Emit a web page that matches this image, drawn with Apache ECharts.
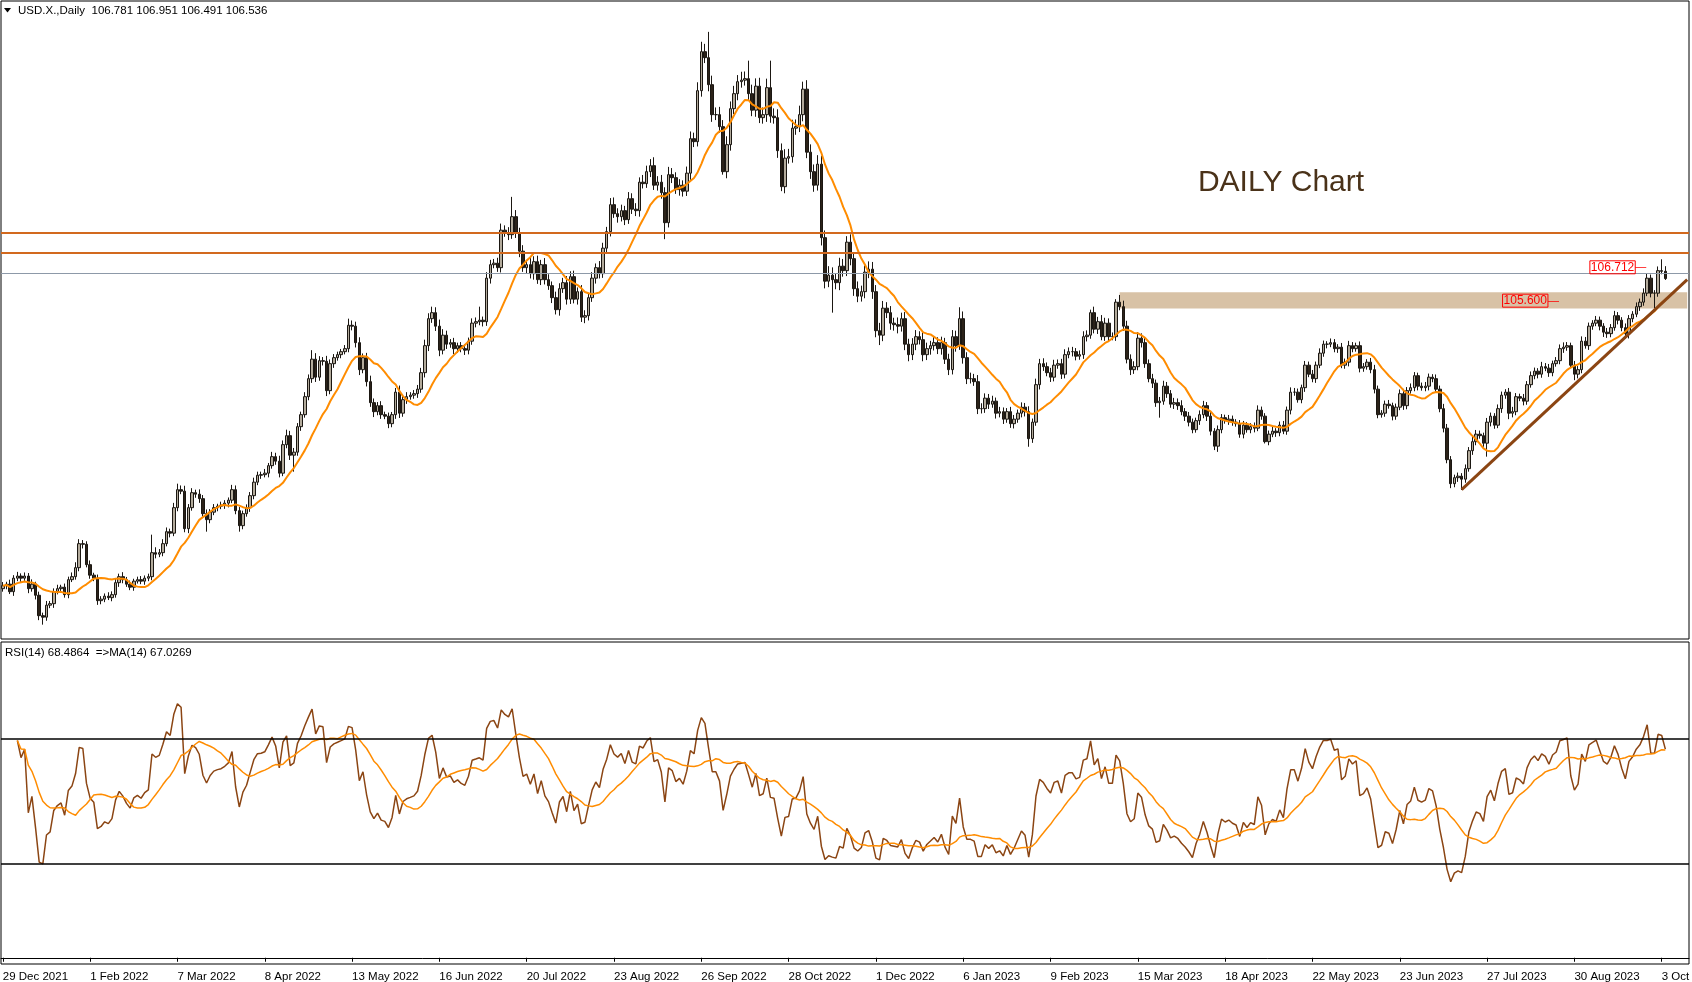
<!DOCTYPE html>
<html><head><meta charset="utf-8">
<script src="https://cdn.jsdelivr.net/npm/echarts@6/dist/echarts.min.js"></script>
<style>html,body{margin:0;padding:0;background:#fff;}#c{width:1690px;height:982px;}</style>
</head><body><div id="c"></div>
<script>
// ---- data (USD.X daily) ----
const firstDay = '2021-12-29';
const closedDays = ['2022-04-15', '2022-12-26', '2023-01-02'];
const tickLabels = ['29 Dec 2021','1 Feb 2022','7 Mar 2022','8 Apr 2022','13 May 2022','16 Jun 2022','20 Jul 2022','23 Aug 2022','26 Sep 2022','28 Oct 2022','1 Dec 2022','6 Jan 2023','9 Feb 2023','15 Mar 2023','18 Apr 2023','22 May 2023','23 Jun 2023','27 Jul 2023','30 Aug 2023','3 Oct 2023'];
const firstOpen = 96.20;
const closes = [
96.30,96.35,96.10,96.55,96.62,96.55,96.62,96.20,96.35,95.98,
95.30,95.25,95.65,95.70,96.10,96.20,96.25,96.00,96.50,96.60,
96.90,97.70,97.68,97.00,96.65,96.55,95.80,95.85,95.95,95.90,
96.00,96.40,96.60,96.50,96.35,96.25,96.45,96.50,96.45,96.55,
96.60,97.40,97.35,97.40,97.70,98.10,98.05,98.90,99.50,99.45,
98.20,98.90,99.40,99.35,99.20,98.70,98.50,98.75,98.90,98.95,
98.98,99.05,99.15,99.50,98.80,98.30,98.70,98.90,99.30,99.75,
99.98,100.00,100.05,100.30,100.60,100.45,100.05,101.00,101.30,100.65,
100.75,101.60,102.00,102.60,103.20,103.85,103.25,103.80,103.78,102.80,
103.70,103.90,104.00,104.10,104.20,104.98,104.95,104.40,103.50,103.90,
103.10,102.40,102.10,102.30,102.00,101.95,101.70,102.00,102.75,102.05,
102.50,102.60,102.65,102.70,102.85,103.40,104.30,105.20,105.40,104.95,
104.15,104.65,104.35,104.40,104.20,104.30,104.20,104.15,104.45,105.05,
105.10,105.15,105.10,106.55,107.00,107.05,106.90,108.15,108.05,108.00,
108.60,108.05,107.45,106.90,107.00,106.70,107.10,106.50,107.00,106.50,
106.30,105.90,105.50,106.20,106.40,105.85,106.60,105.85,106.10,105.25,
105.30,105.90,106.55,106.90,106.70,107.55,108.10,109.00,108.70,108.60,
108.80,108.50,109.20,108.85,108.80,109.75,109.70,110.10,110.30,109.65,
109.75,109.40,108.40,110.00,109.90,109.50,109.65,109.45,110.05,111.20,
111.10,112.80,114.10,113.90,113.00,112.00,112.00,111.60,110.10,111.00,
112.20,112.70,113.10,113.15,113.20,112.70,112.15,112.95,111.90,112.00,
112.90,111.95,111.90,110.80,109.60,110.55,110.60,111.55,111.60,112.00,
112.85,110.75,110.10,109.65,110.35,107.90,106.45,106.65,106.50,106.40,
106.95,106.80,107.75,107.20,106.20,105.95,106.10,106.75,106.85,106.10,
104.80,104.65,105.55,105.40,105.05,105.00,104.95,105.20,104.35,104.00,
104.35,104.60,104.50,104.00,104.20,104.30,104.40,104.20,104.40,103.85,
103.50,104.60,104.30,105.20,103.90,103.20,103.20,103.10,102.20,102.20,
102.55,102.35,102.45,102.05,102.10,101.85,102.10,101.70,101.85,102.05,
102.25,102.10,101.20,101.75,103.00,103.70,103.60,103.40,103.25,103.65,
103.70,103.35,104.00,104.10,104.10,103.95,104.00,104.60,104.65,105.40,
104.85,105.10,104.60,105.05,104.60,104.60,105.75,105.60,104.95,103.85,
103.50,103.60,104.55,104.40,103.70,103.20,103.05,102.40,102.45,102.95,
102.70,102.35,102.40,102.30,102.10,101.95,101.75,101.50,101.80,102.00,
102.30,101.95,101.45,100.95,101.50,101.90,101.80,101.85,101.75,101.70,
101.35,101.65,101.50,101.60,101.55,102.15,101.95,101.10,101.35,101.45,
101.40,101.65,101.45,102.15,102.75,102.75,102.50,102.90,103.65,103.35,
103.20,103.65,104.05,104.35,104.35,104.40,104.20,104.25,103.65,103.75,
104.30,104.20,104.30,103.55,103.60,103.75,103.50,102.85,102.00,102.05,
102.35,102.30,101.95,102.25,102.70,102.30,102.80,102.90,103.30,102.95,
102.90,102.95,103.25,103.20,102.85,102.20,101.55,100.50,99.70,99.90,
99.95,99.85,100.20,100.80,101.10,101.35,101.30,101.05,101.75,101.95,
101.65,102.20,102.65,102.75,102.05,102.10,102.60,102.55,102.45,103.00,
103.30,103.45,103.35,103.60,103.55,103.40,103.70,103.80,104.20,104.25,
104.30,103.65,103.35,103.50,104.45,104.30,104.95,105.05,105.15,104.95,
104.75,104.70,104.90,105.30,105.15,104.90,104.70,105.20,105.35,105.60,
105.75,106.05,106.55,106.05,106.05,106.80,106.78,106.536
];
// wick lengths above / below the body, in hundredths of a point
const wickUp = [
12,8,15,10,14,9,12,10,16,8,12,10,14,9,11,13,8,12,10,14,
18,15,12,10,14,8,12,10,9,13,11,12,10,15,9,12,8,10,12,9,
10,60,18,12,15,14,10,16,20,14,18,12,15,10,16,12,14,10,12,8,
12,10,9,16,14,12,10,11,12,15,12,10,14,9,16,13,18,14,20,16,
14,12,10,15,14,30,20,15,12,18,14,12,10,9,12,22,16,15,18,14,
16,20,14,12,15,10,12,9,14,22,12,15,10,12,14,16,20,18,20,18,
22,20,15,12,16,10,12,14,12,16,14,45,12,20,16,14,18,22,16,20,
66,22,18,20,16,24,18,20,16,22,18,14,20,18,16,22,18,20,14,22,
18,16,20,14,22,18,16,22,24,18,20,16,22,18,20,16,24,20,22,28,
20,24,18,26,22,18,20,16,22,24,20,28,33,26,86,30,24,26,22,28,
24,26,22,28,24,60,30,26,28,24,30,90,26,28,24,30,26,28,24,30,
25,30,26,24,30,28,24,30,26,22,28,24,20,26,22,24,20,22,26,24,
22,26,24,20,22,18,24,20,22,18,20,22,18,24,20,16,22,18,20,16,
18,22,20,38,24,18,20,16,22,18,16,14,18,12,16,14,12,16,14,12,
16,14,18,12,20,16,18,14,16,18,14,16,18,14,16,12,14,18,16,10,
20,16,22,18,16,14,10,24,20,18,16,18,20,16,18,14,16,12,14,18,
14,12,16,14,18,12,14,12,10,14,16,12,14,10,14,12,10,14,12,10,
12,14,10,12,14,16,12,10,12,14,10,12,14,12,16,14,12,10,14,12,
14,12,16,12,10,14,12,10,14,12,16,12,10,14,12,10,14,16,12,10,
12,14,10,12,14,16,12,14,12,10,12,14,12,10,14,12,16,14,12,10,
12,10,14,12,16,14,12,10,14,12,10,14,12,10,14,16,12,10,14,12,
14,12,10,16,12,14,10,12,14,16,12,10,14,12,16,14,12,10,14,12,
10,14,12,16,12,10,14,12,10,14,12,16,14,12,10,14,38,17
];
const wickDown = [
10,12,8,14,10,12,9,15,10,14,15,25,12,10,14,9,12,10,12,8,
10,12,14,9,12,10,14,12,10,8,12,10,14,12,9,10,12,8,10,12,
10,12,14,10,12,9,14,10,12,10,12,15,10,12,14,10,40,12,10,12,
10,12,14,10,12,20,12,10,14,12,10,12,9,14,10,12,14,10,12,16,
55,12,14,10,12,14,16,12,14,18,12,14,10,12,9,12,14,16,18,12,
16,14,18,12,14,10,15,12,14,16,12,14,10,12,14,12,16,18,14,16,
20,14,16,12,18,14,12,16,14,12,14,12,16,14,18,12,14,16,12,18,
14,16,20,14,18,16,20,14,18,16,14,18,16,20,14,18,16,14,18,16,
20,16,14,18,16,14,18,16,14,20,16,18,14,16,18,20,16,14,18,16,
18,20,55,16,18,14,20,18,16,22,18,16,20,18,22,24,18,20,10,22,
20,18,22,20,18,24,20,22,18,20,24,22,20,24,15,22,18,20,22,18,
22,20,24,22,18,26,24,20,110,22,25,20,18,22,24,20,18,22,20,24,
22,33,20,18,22,20,24,18,20,22,18,20,16,22,18,20,16,18,20,16,
18,16,20,14,20,18,16,14,18,16,14,16,12,18,14,16,12,14,16,12,
14,16,27,14,12,16,14,12,16,14,12,16,14,12,16,14,12,14,16,12,
14,16,12,14,16,12,14,12,16,14,18,14,12,16,14,12,16,14,50,12,
14,12,16,14,12,16,14,12,10,14,12,16,14,13,19,12,10,14,12,10,
12,14,10,12,14,10,12,6,12,10,14,12,10,12,14,12,10,12,14,10,
12,14,10,12,14,10,12,14,10,12,14,12,10,14,12,10,12,14,12,10,
12,10,14,12,10,14,12,10,12,14,10,12,14,12,10,12,14,12,15,12,
14,36,12,10,14,12,10,12,45,14,12,10,14,12,20,14,12,10,14,12,
10,12,14,12,10,14,12,10,12,14,12,10,20,14,12,10,14,12,10,14,
16,14,12,10,14,12,16,16,12,10,14,12,10,14,50,12,10,4.5
];
const headerText = 'USD.X.,Daily  106.781 106.951 106.491 106.536';
const rsiText = 'RSI(14) 68.4864  =>MA(14) 67.0269';
const noteText = 'DAILY Chart';
const resistanceLevels = [108.064, 107.398];
const greyLevel = 106.712;
const zoneLow = 105.543, zoneHigh = 106.077, zoneStartIdx = 307;
const trendStart = [401, 99.5], trendEnd = [463, 106.5];
const priceTags = [{ idx: 444, value: 106.712, text: '106.712' }, { idx: 420, value: 105.600, text: '105.600' }];
const rsiLevels = [70, 30];
const maPeriod = 14, rsiPeriod = 14, rsiMaPeriod = 14;
const padBars = 6;

// ---- build ----
const N = closes.length;
const opens = [firstOpen].concat(closes.slice(0, N - 1)); // each daily bar opens at the previous close
const highs = closes.map((c, i) => Math.max(opens[i], c) + (wickUp[i] || 0) / 100);
const lows = closes.map((c, i) => Math.min(opens[i], c) - (wickDown[i] || 0) / 100);
const ohlc = closes.map((c, i) => [opens[i], c, lows[i], highs[i]]);

const cats = [];
{
  const d = new Date(firstDay + 'T00:00:00Z');
  while (cats.length < N + padBars) {
    const wd = d.getUTCDay();
    const iso = d.toISOString().slice(0, 10);
    if (wd !== 0 && wd !== 6 && closedDays.indexOf(iso) < 0) cats.push(iso);
    d.setUTCDate(d.getUTCDate() + 1);
  }
}
function sma(src, n) {
  return src.map((v, i) => {
    if (v == null) return null;
    let s = 0, c = 0;
    for (let j = Math.max(0, i - n + 1); j <= i; j++) if (src[j] != null) { s += src[j]; c++; }
    return c ? s / c : null;
  });
}
function rsi(src, n) {
  const out = new Array(src.length).fill(null);
  let ag = 0, al = 0;
  for (let i = 1; i < src.length; i++) {
    const d = src[i] - src[i - 1];
    const k = Math.min(i, n);
    ag = (ag * (k - 1) + (d > 0 ? d : 0)) / k;
    al = (al * (k - 1) + (d < 0 ? -d : 0)) / k;
    if (i >= 4) out[i] = al === 0 ? 100 : 100 - 100 / (1 + ag / al);
  }
  return out;
}
const ma = sma(closes, maPeriod);
const rsiVals = rsi(closes, rsiPeriod);
const rsiMa = sma(rsiVals, rsiMaPeriod);

const FONT = '"Liberation Sans", Arial, sans-serif';
const labelEvery = 24;
const chart = echarts.init(document.getElementById('c'));
chart.setOption({
  animation: false,
  backgroundColor: '#ffffff',
  grid: [
    { left: 1, top: 1, width: 1688, height: 638, show: true, borderColor: '#000', borderWidth: 1, backgroundColor: 'transparent', containLabel: false, outerBoundsMode: 'none' },
    { left: 1, top: 642, width: 1688, height: 322, show: true, borderColor: '#000', borderWidth: 1, backgroundColor: 'transparent', containLabel: false, outerBoundsMode: 'none' }
  ],
  xAxis: [
    { type: 'category', gridIndex: 0, data: cats, boundaryGap: true, axisLine: { show: false }, axisTick: { show: false }, axisLabel: { show: false }, splitLine: { show: false } },
    { type: 'category', gridIndex: 1, data: cats, boundaryGap: true,
      axisLine: { show: true, lineStyle: { color: '#000', width: 1 } },
      axisTick: { show: true, alignWithLabel: true, length: 4, lineStyle: { color: '#000' }, interval: (i) => i % labelEvery === 0 && i / labelEvery < tickLabels.length },
      axisLabel: { show: true, align: 'left', margin: 7, color: '#000', fontFamily: FONT, fontSize: 11.5,
        interval: (i) => i % labelEvery === 0 && i / labelEvery < tickLabels.length,
        formatter: (v, i) => tickLabels[Math.round(i / labelEvery)] || '' },
      splitLine: { show: false } }
  ],
  yAxis: [
    { type: 'value', gridIndex: 0, min: 94.522, max: 115.789, show: false, splitLine: { show: false } },
    { type: 'value', gridIndex: 1, min: -2.0, max: 101.04, show: false, splitLine: { show: false } }
  ],
  graphic: [
    { type: 'polygon', shape: { points: [[4, 8], [11, 8], [7.5, 12.5]] }, style: { fill: '#000' } },
    { type: 'text', x: 18, y: 10.5, style: { text: headerText, font: '11.5px ' + FONT, fill: '#000', verticalAlign: 'middle' } },
    { type: 'text', x: 5, y: 653, style: { text: rsiText, font: '11.5px ' + FONT, fill: '#000', verticalAlign: 'middle' } },
    { type: 'text', x: 1281, y: 183, style: { text: noteText, font: '30px ' + FONT, fill: '#4a3219', align: 'center', verticalAlign: 'middle' } }
  ],
  series: [
    { type: 'candlestick', name: 'USD.X', xAxisIndex: 0, yAxisIndex: 0, data: ohlc, barWidth: 3,
      itemStyle: { color: '#b3ab9c', color0: '#2b2219', borderColor: '#1b1712', borderColor0: '#1b1712', borderWidth: 1 },
      markArea: { silent: true, itemStyle: { color: '#d8c2a6', opacity: 1 },
        data: [[{ xAxis: zoneStartIdx, yAxis: zoneHigh }, { xAxis: N + padBars - 1, yAxis: zoneLow }]] },
      markLine: { silent: true, symbol: ['none', 'none'], label: { show: false },
        data: resistanceLevels.map(v => ({ yAxis: v, lineStyle: { color: '#d2691e', width: 2, type: 'solid' } }))
          .concat([{ yAxis: greyLevel, lineStyle: { color: '#8d99a8', width: 1, type: 'solid' } }])
          .concat([[{ coord: trendStart, lineStyle: { color: '#8b4513', width: 3, type: 'solid' } }, { coord: trendEnd, lineStyle: { color: '#8b4513', width: 3, type: 'solid' } }]]) },
      markPoint: { silent: true, symbol: 'rect', symbolSize: 1, itemStyle: { color: 'rgba(0,0,0,0)' },
        data: priceTags.map(t => ({ coord: [t.idx, t.value],
          label: { show: true, position: 'inside', offset: [0, -6], formatter: '{a|' + t.text + '}{b|—}',
            rich: { a: { color: '#ff0000', fontFamily: FONT, fontSize: 12, borderColor: '#ff0000', borderWidth: 1, padding: [1, 1, 0, 1], lineHeight: 13 },
                    b: { color: '#ff0000', fontFamily: FONT, fontSize: 11 } } } })) }
    },
    { type: 'line', name: 'MA14', xAxisIndex: 0, yAxisIndex: 0, data: ma, showSymbol: false, symbol: 'none', lineStyle: { color: '#ff8c00', width: 2 }, z: 3 },
    { type: 'line', name: 'RSI14', xAxisIndex: 1, yAxisIndex: 1, data: rsiVals, showSymbol: false, symbol: 'none', lineStyle: { color: '#8b4513', width: 1.5 },
      markLine: { silent: true, symbol: ['none', 'none'], label: { show: false }, lineStyle: { color: '#000', width: 1.5, type: 'solid' }, data: rsiLevels.map(v => ({ yAxis: v })) } },
    { type: 'line', name: 'RSI MA14', xAxisIndex: 1, yAxisIndex: 1, data: rsiMa, showSymbol: false, symbol: 'none', lineStyle: { color: '#ff8c00', width: 1.5 } }
  ]
});
</script></body></html>
